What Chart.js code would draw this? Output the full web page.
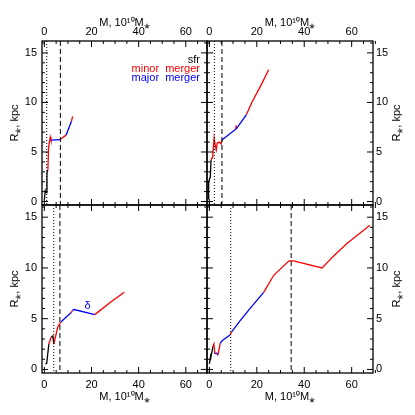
<!DOCTYPE html>
<html><head><meta charset="utf-8">
<script src="https://cdn.jsdelivr.net/npm/chart.js@4/dist/chart.umd.min.js"></script>
<style>body{margin:0;background:#fff}canvas{position:absolute;left:0;top:0}</style>
</head><body>
<div style="position:relative;width:415px;height:415px">
<canvas id="c0" width="415" height="415"></canvas><canvas id="c1" width="415" height="415"></canvas>
<canvas id="c2" width="415" height="415"></canvas><canvas id="c3" width="415" height="415"></canvas>
</div>
<script>
const xTicks=[0,20,40,60];
const yTicks=[0,5,10,15];
const mTL=[0,0.4,0.7,1.1,1.5,1.8,2.5,2.8,6.7,9.2,11.5,12];
const rTL=[0.2,1.1,0.9,2.9,3.2,5.5,6.5,6.2,6.25,6.7,8.1,8.6];
const cTL=['k','k','k','k','k','r','r','r','b','r','b','r'];
const mTR=[-0.3,-0.3,0.4,0.7,1.4,2.0,2.6,2.9,3.3,4.3,4.9,5.3,11.1,11.3,11.3,15.7,17.9,22.1,25];
const rTR=[0.2,2,2.5,4.2,4.5,6.4,5.5,5.2,5.9,6,5.8,6.2,7.3,7.7,7.3,8.8,10,11.9,13.3];
const cTR=['k','k','k','k','r','r','r','r','r','r','r','r','b','r','r','b','r','r','r'];
const mBL=[0.4,1,1.9,2.9,3.6,4,5.7,7.1,11.4,11.9,12.6,21.4,27.9,33.9];
const rBL=[0.55,0.6,2.5,3.2,3.3,2.5,4.2,4.7,5.6,5.8,5.9,5.4,6.6,7.6];
const cBL=['k','k','k','r','k','k','r','r','b','r','b','b','r','r'];
const mBR=[0,0.7,0.4,1.45,1.9,2.3,3.2,3.6,4.6,5.5,8.7,9.4,13,17.1,22.9,27.2,33.6,35.5,47.5,50,52.5,58,67.7];
const rBR=[0.55,1.55,0.9,2.2,2.5,1.55,1.6,1.4,2.6,2.85,3.4,3.7,4.8,6,7.6,9.3,10.7,10.7,10,10.6,11.2,12.4,14.2];
const cBR=['k','k','k','k','r','r','b','b','r','b','b','r','b','b','b','r','r','r','r','r','r','r','r'];
const dotted=[1,2.1,4,9];
const dashed=[6.8,5.3,6.6,34.5];
const legendLabels=['sfr','minor  merger','major  merger'];
const xTitle='M, 10¹⁰M⁎', yTitle='R⁎, kpc';
const COL={k:'#000',r:'#ff0000',b:'#0000ff'};
const FONT='"Liberation Sans", Arial, sans-serif';

const panels=[
 {m:mTL,r:rTL,c:cTL,l:42,t:41,rr:207,b:205,xp:'top',yp:'left'},
 {m:mTR,r:rTR,c:cTR,l:207,t:41,rr:373,b:205,xp:'top',yp:'right'},
 {m:mBL,r:rBL,c:cBL,l:42,t:205,rr:207,b:373,xp:'bottom',yp:'left'},
 {m:mBR,r:rBR,c:cBR,l:207,t:205,rr:373,b:373,xp:'bottom',yp:'right'}];

panels.forEach((p,i)=>{
 const AX=p.xp==='top'?41:42, AY=42;
 const pad={left:p.yp==='left'?p.l-AY:p.l, right:p.yp==='right'?415-p.rr-AY:415-p.rr,
   top:p.xp==='top'?p.t-AX:p.t, bottom:p.xp==='bottom'?415-p.b-AX:415-p.b};
 const deco={id:'deco'+i,afterDatasetsDraw(ch){
   const g=ch.ctx,a=ch.chartArea,xs=ch.scales.x,ys=ch.scales.y;
   g.save();g.strokeStyle='#000';g.lineWidth=1;
   g.setLineDash([1,2]);let x=xs.getPixelForValue(dotted[i]);
   g.beginPath();g.moveTo(x,a.top);g.lineTo(x,a.bottom);g.stroke();
   g.setLineDash([5,3]);x=xs.getPixelForValue(dashed[i]);
   g.beginPath();g.moveTo(x,a.top);g.lineTo(x,a.bottom);g.stroke();
   g.setLineDash([]);g.lineWidth=1.3;
   g.strokeRect(a.left,a.top,a.right-a.left,a.bottom-a.top);g.lineWidth=1;
   g.beginPath();
   for(let v=0;v<=70;v+=5){const px=xs.getPixelForValue(v);const L=v%20===0?6:3;
     g.moveTo(px,a.top);g.lineTo(px,a.top+L);g.moveTo(px,a.bottom);g.lineTo(px,a.bottom-L);}
   for(let v=0;v<=16;v+=1){const py=ys.getPixelForValue(v);const L=v%5===0?6:3;
     g.moveTo(a.left,py);g.lineTo(a.left+L,py);g.moveTo(a.right,py);g.lineTo(a.right-L,py);}
   g.stroke();
   g.font='11px '+FONT;g.textAlign='right';g.textBaseline='middle';
   if(i===0){const cs=['#000',COL.r,COL.b];
     legendLabels.forEach((t,k)=>{g.fillStyle=cs[k];g.fillText(t,200,60+k*9);});}
   if(i===2){g.fillStyle=COL.b;g.textAlign='center';
     g.fillText('δ',xs.getPixelForValue(18.3),ys.getPixelForValue(6.3));}
   if(p.yp==='right'){g.fillStyle='#000';g.textAlign='center';
     g.translate(397,(a.top+a.bottom)/2);g.rotate(-Math.PI/2);g.fillText(yTitle,0,0);}
   g.restore();}};
 new Chart(document.getElementById('c'+i),{type:'line',
  data:{datasets:[{data:p.m.map((v,k)=>({x:v,y:p.r[k]})),borderWidth:1.3,pointRadius:0,
    borderColor:'#000',segment:{borderColor:ctx=>COL[p.c[ctx.p1DataIndex]]},tension:0}]},
  options:{responsive:false,animation:false,events:[],layout:{padding:pad},
   plugins:{legend:{display:false},tooltip:{enabled:false}},
   scales:{
    x:{type:'linear',position:p.xp,min:-1,max:69,grid:{display:false,drawTicks:false},border:{display:false},
      afterBuildTicks:s=>{s.ticks=xTicks.map(v=>({value:v}));},
      afterFit:s=>{s.height=AX;},
      ticks:{font:{size:11,family:FONT},color:'#000',padding:p.xp==='top'?2:5,maxRotation:0},
      title:{display:true,text:xTitle,font:{size:11,family:FONT},color:'#000',
        padding:p.xp==='top'?{top:16,bottom:0}:{top:0,bottom:11}}},
    y:{type:'linear',position:p.yp,min:-0.35,max:16.2,grid:{display:false,drawTicks:false},border:{display:false},
      afterBuildTicks:s=>{s.ticks=yTicks.map(v=>({value:v}));},
      afterFit:s=>{s.width=AY;},
      ticks:{font:{size:11,family:FONT},color:'#000',padding:p.yp==='left'?5:3},
      title:{display:p.yp==='left',text:yTitle,font:{size:11,family:FONT},color:'#000',
        padding:{top:8,bottom:0}}}}},
  plugins:[deco]});
});
</script></body></html>
